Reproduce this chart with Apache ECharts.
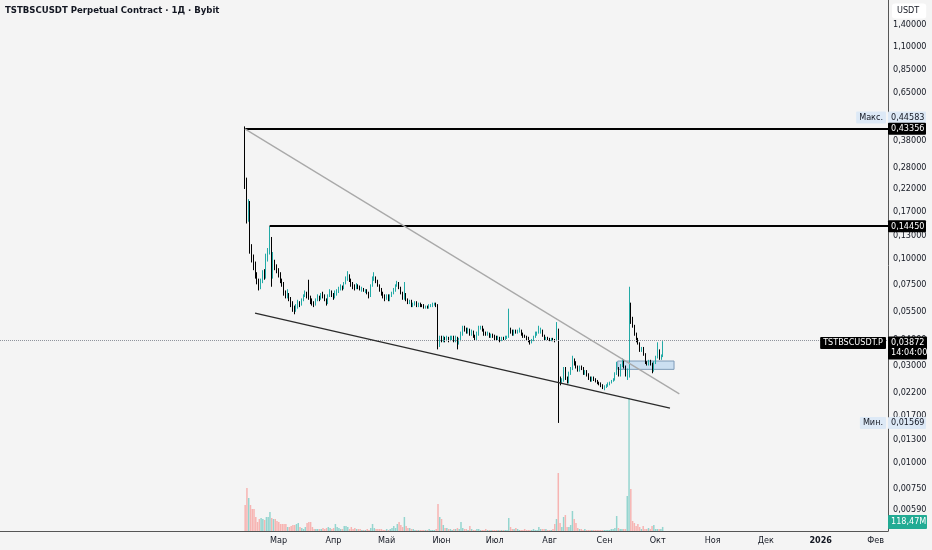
<!DOCTYPE html>
<html><head><meta charset="utf-8">
<script src="https://cdn.jsdelivr.net/npm/echarts@6/dist/echarts.min.js"></script>
<style>html,body{margin:0;padding:0;background:#f4f4f4}#c{width:932px;height:550px}</style>
</head><body><div id="c"></div>
<script>
const FONT = "'Liberation Sans Narrow','DejaVu Sans Condensed',Roboto,sans-serif";
const titleText = 'TSTBSCUSDT Perpetual Contract · 1Д · Bybit';
const firstDay = '2025-02-10';
const opens = [
0.430,0.226,0.167,0.187,0.110,0.100,0.092,0.083,0.078,0.073,
0.078,0.085,0.081,0.103,0.108,0.126,0.082,0.097,0.092,0.088,
0.084,0.078,0.076,0.068,0.066,0.067,0.064,0.060,0.057,0.056,
0.059,0.061,0.060,0.063,0.066,0.068,0.066,0.064,0.062,0.061,
0.060,0.063,0.065,0.064,0.067,0.066,0.063,0.061,0.066,0.069,
0.067,0.065,0.068,0.069,0.071,0.073,0.072,0.076,0.080,0.083,
0.079,0.075,0.073,0.072,0.074,0.073,0.071,0.0712,0.070,0.0705,
0.068,0.066,0.074,0.080,0.081,0.078,0.074,0.071,0.068,0.066,
0.064,0.066,0.063,0.066,0.068,0.070,0.074,0.076,0.072,0.068,
0.064,0.067,0.063,0.061,0.062,0.059,0.060,0.061,0.059,0.060,
0.0595,0.059,0.058,0.0585,0.058,0.059,0.0592,0.060,0.0603,0.059,
0.038,0.041,0.040,0.041,0.040,0.041,0.040,0.041,0.0412,0.040,
0.041,0.0385,0.040,0.043,0.046,0.0455,0.044,0.045,0.043,0.044,
0.042,0.041,0.043,0.046,0.0462,0.045,0.043,0.0425,0.043,0.042,
0.0425,0.042,0.041,0.0405,0.041,0.040,0.041,0.0405,0.041,0.0415,
0.045,0.044,0.0425,0.044,0.0435,0.044,0.0445,0.043,0.042,0.0415,
0.041,0.0395,0.039,0.040,0.0415,0.043,0.0435,0.044,0.0445,0.042,
0.0405,0.041,0.0405,0.040,0.0402,0.040,0.0398,0.0452,0.026,0.025,
0.0255,0.029,0.026,0.025,0.0275,0.029,0.032,0.031,0.0295,0.0285,
0.0295,0.029,0.0275,0.028,0.027,0.026,0.0255,0.026,0.0258,0.0252,
0.0248,0.0245,0.024,0.0236,0.0237,0.024,0.0245,0.0248,0.0252,0.0256,
0.0273,0.029,0.0268,0.030,0.032,0.0295,0.027,0.0275,0.053,0.051,
0.047,0.043,0.040,0.0385,0.0355,0.0365,0.034,0.031,0.0305,0.0315,
0.0305,0.0288,0.031,0.033,0.0355,0.0325,0.0335];
const highs = [
0.4458,0.250,0.196,0.192,0.118,0.105,0.097,0.086,0.080,0.080,
0.088,0.089,0.106,0.113,0.1445,0.128,0.108,0.099,0.094,0.090,
0.086,0.080,0.077,0.070,0.071,0.068,0.065,0.062,0.059,0.060,
0.063,0.062,0.064,0.067,0.070,0.069,0.079,0.066,0.064,0.062,
0.064,0.067,0.066,0.068,0.069,0.067,0.064,0.067,0.071,0.070,
0.068,0.070,0.071,0.073,0.075,0.074,0.077,0.082,0.087,0.084,
0.080,0.077,0.075,0.076,0.075,0.074,0.073,0.072,0.071,0.071,
0.069,0.075,0.082,0.086,0.082,0.079,0.075,0.072,0.069,0.067,
0.067,0.067,0.067,0.069,0.072,0.075,0.078,0.077,0.073,0.069,
0.077,0.068,0.064,0.063,0.063,0.061,0.062,0.062,0.061,0.061,
0.060,0.060,0.059,0.059,0.060,0.060,0.061,0.061,0.061,0.060,
0.042,0.042,0.042,0.0415,0.042,0.0415,0.042,0.042,0.042,0.042,
0.0415,0.041,0.044,0.047,0.047,0.046,0.046,0.0455,0.045,0.0445,
0.0425,0.044,0.047,0.047,0.047,0.0455,0.044,0.044,0.0435,0.043,
0.043,0.0425,0.042,0.042,0.0415,0.0415,0.0415,0.042,0.042,0.057,
0.046,0.045,0.045,0.045,0.045,0.046,0.045,0.0435,0.0425,0.042,
0.0415,0.040,0.0405,0.042,0.044,0.044,0.047,0.046,0.045,0.0425,
0.0415,0.0415,0.041,0.041,0.041,0.0405,0.049,0.0455,0.0265,0.026,
0.0295,0.0295,0.0265,0.028,0.0295,0.0335,0.0325,0.0315,0.030,0.030,
0.030,0.0295,0.0285,0.0285,0.0275,0.0265,0.0265,0.0265,0.026,0.0255,
0.025,0.0248,0.0243,0.024,0.0243,0.0248,0.025,0.0255,0.026,0.0278,
0.0313,0.0295,0.0305,0.0325,0.0322,0.030,0.029,0.073,0.061,0.052,
0.0475,0.0435,0.041,0.039,0.037,0.037,0.0345,0.0315,0.032,0.032,
0.031,0.0315,0.0335,0.039,0.036,0.034,0.0395];
const lows = [
0.220,0.149,0.152,0.106,0.096,0.088,0.080,0.075,0.070,0.071,
0.076,0.079,0.080,0.097,0.105,0.073,0.080,0.088,0.085,0.081,
0.076,0.073,0.066,0.064,0.064,0.062,0.058,0.055,0.0535,0.055,
0.057,0.058,0.059,0.062,0.065,0.064,0.063,0.060,0.059,0.058,
0.059,0.062,0.062,0.063,0.064,0.062,0.059,0.060,0.065,0.065,
0.063,0.064,0.066,0.068,0.070,0.070,0.071,0.075,0.078,0.077,
0.073,0.071,0.070,0.071,0.071,0.070,0.069,0.069,0.068,0.067,
0.064,0.065,0.073,0.078,0.076,0.073,0.069,0.066,0.064,0.062,
0.063,0.062,0.062,0.065,0.067,0.069,0.073,0.071,0.067,0.063,
0.063,0.062,0.060,0.060,0.058,0.058,0.059,0.058,0.058,0.058,
0.058,0.057,0.057,0.057,0.057,0.058,0.058,0.059,0.058,0.036,
0.037,0.039,0.039,0.039,0.0395,0.039,0.0395,0.040,0.039,0.039,
0.036,0.038,0.0395,0.042,0.044,0.043,0.043,0.042,0.042,0.041,
0.040,0.040,0.042,0.045,0.044,0.042,0.042,0.042,0.041,0.041,
0.041,0.040,0.040,0.040,0.039,0.0395,0.040,0.040,0.0405,0.041,
0.043,0.042,0.042,0.043,0.043,0.0435,0.042,0.041,0.041,0.040,
0.039,0.038,0.0385,0.0395,0.041,0.042,0.043,0.043,0.0415,0.040,
0.040,0.040,0.0395,0.0395,0.0395,0.039,0.0395,0.0157,0.024,0.0245,
0.025,0.0255,0.0245,0.0245,0.027,0.0285,0.030,0.029,0.028,0.028,
0.0285,0.027,0.027,0.0265,0.0255,0.025,0.025,0.0252,0.0248,0.0243,
0.024,0.0235,0.023,0.0227,0.0233,0.0236,0.024,0.0245,0.025,0.0253,
0.027,0.0265,0.0265,0.0295,0.029,0.0265,0.0255,0.0262,0.048,0.046,
0.042,0.039,0.038,0.035,0.035,0.0335,0.0305,0.030,0.030,0.030,
0.0275,0.028,0.0305,0.0325,0.032,0.032,0.033];
const closes = [
0.226,0.167,0.187,0.110,0.100,0.092,0.083,0.078,0.073,0.078,
0.085,0.081,0.103,0.108,0.126,0.082,0.097,0.092,0.088,0.084,
0.078,0.076,0.068,0.066,0.067,0.064,0.060,0.057,0.056,0.059,
0.061,0.060,0.063,0.066,0.068,0.066,0.064,0.062,0.061,0.060,
0.063,0.065,0.064,0.067,0.066,0.063,0.061,0.066,0.069,0.067,
0.065,0.068,0.069,0.071,0.073,0.072,0.076,0.080,0.083,0.079,
0.075,0.073,0.072,0.074,0.073,0.071,0.0712,0.070,0.0705,0.068,
0.066,0.074,0.080,0.081,0.078,0.074,0.071,0.068,0.066,0.064,
0.066,0.063,0.066,0.068,0.070,0.074,0.076,0.072,0.068,0.064,
0.067,0.063,0.061,0.062,0.059,0.060,0.061,0.059,0.060,0.0595,
0.059,0.058,0.0585,0.058,0.059,0.0592,0.060,0.0603,0.059,0.038,
0.041,0.040,0.041,0.040,0.041,0.040,0.041,0.0412,0.040,0.041,
0.0385,0.040,0.043,0.046,0.0455,0.044,0.045,0.043,0.044,0.042,
0.041,0.043,0.046,0.0462,0.045,0.043,0.0425,0.043,0.042,0.0425,
0.042,0.041,0.0405,0.041,0.040,0.041,0.0405,0.041,0.0415,0.045,
0.044,0.0425,0.044,0.0435,0.044,0.0445,0.043,0.042,0.0415,0.041,
0.0395,0.039,0.040,0.0415,0.043,0.0435,0.044,0.0445,0.042,0.0405,
0.041,0.0405,0.040,0.0402,0.040,0.0398,0.0452,0.026,0.025,0.0255,
0.029,0.026,0.025,0.0275,0.029,0.032,0.031,0.0295,0.0285,0.0295,
0.029,0.0275,0.028,0.027,0.026,0.0255,0.026,0.0258,0.0252,0.0248,
0.0245,0.024,0.0236,0.0237,0.024,0.0245,0.0248,0.0252,0.0256,0.0273,
0.029,0.0268,0.030,0.032,0.0295,0.027,0.0275,0.053,0.051,0.047,
0.043,0.040,0.0385,0.0355,0.0365,0.034,0.031,0.0305,0.0315,0.0305,
0.0288,0.031,0.033,0.0355,0.0325,0.0335,0.03872];
// volume in millions USDT
const volumes = [
762,1260,967,762,645,645,410,264,352,381,
352,322,410,410,557,381,352,352,293,264,
205,205,205,205,117,117,147,176,176,205,
234,117,88,59,117,234,264,264,117,59,
59,59,59,59,88,59,88,117,88,59,
88,205,117,88,59,59,147,147,117,59,
117,59,88,59,59,59,29,29,29,59,
29,88,205,88,59,59,59,59,29,29,
59,29,59,88,147,88,205,264,176,117,
410,147,88,88,59,59,29,29,29,29,
29,29,29,29,59,29,29,29,59,791,
410,352,176,88,88,59,59,29,59,59,
88,59,264,88,59,59,29,147,59,29,
29,59,59,29,29,29,59,29,29,29,
29,29,29,29,29,29,29,29,29,381,
117,59,59,88,59,29,29,29,59,29,
29,29,29,59,29,29,117,59,59,59,
59,29,29,29,59,205,352,1699,234,117,
410,469,117,117,176,586,352,234,88,59,
59,29,59,29,29,29,29,29,29,29,
29,29,29,29,29,29,29,59,59,88,
440,88,59,59,59,59,1026,3897,1231,293,
234,147,205,117,59,147,59,59,88,59,
147,176,59,59,59,59,118.47];
const priceTicks = [1.4,1.1,0.85,0.65,0.38,0.28,0.22,0.17,0.13,0.10,0.075,0.055,0.04,0.03,0.022,0.017,0.013,0.01,0.0075,0.0059];
const monthNames = ['Янв','Фев','Мар','Апр','Май','Июн','Июл','Авг','Сен','Окт','Ноя','Дек'];
const firstMonthLabel = '2025-03-01';
const maxPrice = 0.44583, minPrice = 0.01569, lastPrice = 0.03872, lastVolume = 118.47;
const countdown = '14:04:00', symbolTag = 'TSTBSCUSDT.P', currency = 'USDT';
const rays = [['2025-02-10', 0.43356], ['2025-02-24', 0.14450]];
const trendUpper = [['2025-02-10T00:00:00Z', 0.4336], ['2025-10-13T05:00:00Z', 0.0218]];
const trendLower = [['2025-02-15T18:00:00Z', 0.0542], ['2025-10-07T22:00:00Z', 0.01857]];
const zoneBox = [['2025-09-08T10:00:00Z', 0.03157], ['2025-10-10T05:00:00Z', 0.02874]];

const DAY = 864e5;
const T = s => new Date(s.length === 10 ? s + 'T00:00:00Z' : s).getTime();
const t0 = T(firstDay);
const dates = closes.map((_, i) => t0 + i * DAY);
const mar1 = T('2025-03-01');
const xMin = mar1 - 157.17 * DAY, xMax = mar1 + 343.96 * DAY;
const labelFrom = T(firstMonthLabel);
const UP = '#22aaa6', DOWN = '#000000';
const fmt = v => v.toFixed(5).replace('.', ',');

const chart = echarts.init(document.getElementById('c'), null, {renderer: 'canvas'});
const candleData = dates.map((d, i) => [d, opens[i], closes[i], lows[i], highs[i]]);
const volData = dates.map((d, i) => ({value: [d, volumes[i]], itemStyle: {color: closes[i] >= opens[i] ? '#94d5cf' : '#f7b4b2'}}));

chart.setOption({
  animation: false,
  useUTC: true,
  backgroundColor: '#f4f4f4',
  textStyle: {fontFamily: FONT},
  title: {text: titleText, left: 5, top: 6, padding: 0, textStyle: {fontSize: 9.5, fontWeight: 'bold', color: '#131722', fontFamily: FONT}},
  grid: [
    {left: 0, right: 44, top: 0, bottom: 19},
    {left: 0, right: 44, top: 398, bottom: 19}
  ],
  xAxis: [
    {type: 'time', gridIndex: 0, min: xMin, max: xMax,
     minInterval: 28 * DAY, maxInterval: 31 * DAY,
     axisLine: {show: true, lineStyle: {color: '#555', width: 1}},
     axisTick: {show: false}, splitLine: {show: false},
     axisLabel: {fontSize: 9, color: '#131722', margin: 5, hideOverlap: false,
       formatter: v => { const d = new Date(v); if (d.getUTCDate() !== 1 || v < labelFrom) return ''; const m = d.getUTCMonth(); return m === 0 ? '{b|' + d.getUTCFullYear() + '}' : monthNames[m]; },
       rich: {b: {fontWeight: 'bold', fontSize: 9, color: '#131722', fontFamily: FONT}}}},
    {type: 'time', gridIndex: 1, min: xMin, max: xMax, show: false}
  ],
  yAxis: [
    {type: 'log', gridIndex: 0, position: 'right', min: 0.004637, max: 1.856, logBase: 10,
     axisLine: {show: true, lineStyle: {color: '#555', width: 1}},
     axisTick: {show: false}, splitLine: {show: false},
     axisLabel: {customValues: priceTicks, fontSize: 9, color: '#131722', margin: 5, formatter: v => fmt(v)}},
    {type: 'value', gridIndex: 1, min: 0, max: 'dataMax', show: false}
  ],
  series: [
    {type: 'bar', xAxisIndex: 1, yAxisIndex: 1, data: volData, barWidth: 1.5, silent: true},
    {type: 'candlestick', xAxisIndex: 0, yAxisIndex: 0, data: candleData,
     encode: {x: 0, y: [1, 2, 3, 4]}, barWidth: 1.2,
     itemStyle: {color: UP, color0: DOWN, borderColor: UP, borderColor0: DOWN, borderWidth: 1},
     markLine: {silent: true, symbol: 'none', animation: false, label: {show: false},
       data: [
         {yAxis: lastPrice, lineStyle: {type: 'dotted', color: '#8f939c', width: 1}},
         [{coord: [T(rays[0][0]), rays[0][1]], lineStyle: {color: '#000', width: 2, type: 'solid'}}, {coord: [xMax, rays[0][1]]}],
         [{coord: [T(rays[1][0]), rays[1][1]], lineStyle: {color: '#000', width: 2, type: 'solid'}}, {coord: [xMax, rays[1][1]]}],
         [{coord: [T(trendUpper[0][0]), trendUpper[0][1]], lineStyle: {color: '#a9a9a9', width: 1.3, type: 'solid'}}, {coord: [T(trendUpper[1][0]), trendUpper[1][1]]}],
         [{coord: [T(trendLower[0][0]), trendLower[0][1]], lineStyle: {color: '#2b2b2b', width: 1.3, type: 'solid'}}, {coord: [T(trendLower[1][0]), trendLower[1][1]]}]
       ]},
     markArea: {silent: true, data: [[
       {coord: [T(zoneBox[0][0]), zoneBox[0][1]], itemStyle: {color: 'rgba(170,205,238,0.55)', borderColor: '#7f9bb8', borderWidth: 1}},
       {coord: [T(zoneBox[1][0]), zoneBox[1][1]]}]]}
    }
  ]
});

const P = (t, v) => chart.convertToPixel({gridIndex: 0}, [t, v]);
const yMax = P(xMax, maxPrice)[1], yMin = P(xMax, minPrice)[1];
const yR0 = P(xMax, rays[0][1])[1], yR1 = P(xMax, rays[1][1])[1], yLast = P(xMax, lastPrice)[1];
const yVol = chart.convertToPixel({gridIndex: 1}, [xMax, lastVolume])[1];
const box = (text, x, y, fill, bg, opts) => ({type: 'text', z: 100, style: Object.assign({
  text, x, y, fill, backgroundColor: bg, fontSize: 9, fontFamily: FONT, padding: [2, 3, 1, 3],
  align: 'left', verticalAlign: 'middle', borderRadius: 1}, opts || {})});
chart.setOption({graphic: [
  box(currency, 892, 11, '#131722', '#ffffff', {padding: [3, 7, 3, 5], borderRadius: 3}),
  box('Макс.', 886, yMax - 9, '#131722', '#dde9f6', {align: 'right'}),
  box(fmt(maxPrice), 888, yMax - 9, '#131722', '#dde9f6', {width: 32}),
  box(fmt(rays[0][1]), 888, yR0, '#ffffff', '#000000', {width: 32}),
  box(fmt(rays[1][1]), 888, yR1, '#ffffff', '#000000', {width: 32}),
  box(symbolTag, 886, yLast, '#ffffff', '#000000', {align: 'right'}),
  box(fmt(lastPrice) + '\n' + countdown, 888, yLast + 5, '#ffffff', '#000000', {width: 33, lineHeight: 10}),
  box('Мин.', 886, yMin, '#131722', '#dde9f6', {align: 'right'}),
  box(fmt(minPrice), 888, yMin, '#131722', '#dde9f6', {width: 32}),
  box(lastVolume.toFixed(2).replace('.', ',') + 'M', 888, Math.min(yVol - 5, 523), '#ffffff', '#22ab94', {width: 33, padding: [3, 3, 2, 3]})
]});
</script></body></html>
